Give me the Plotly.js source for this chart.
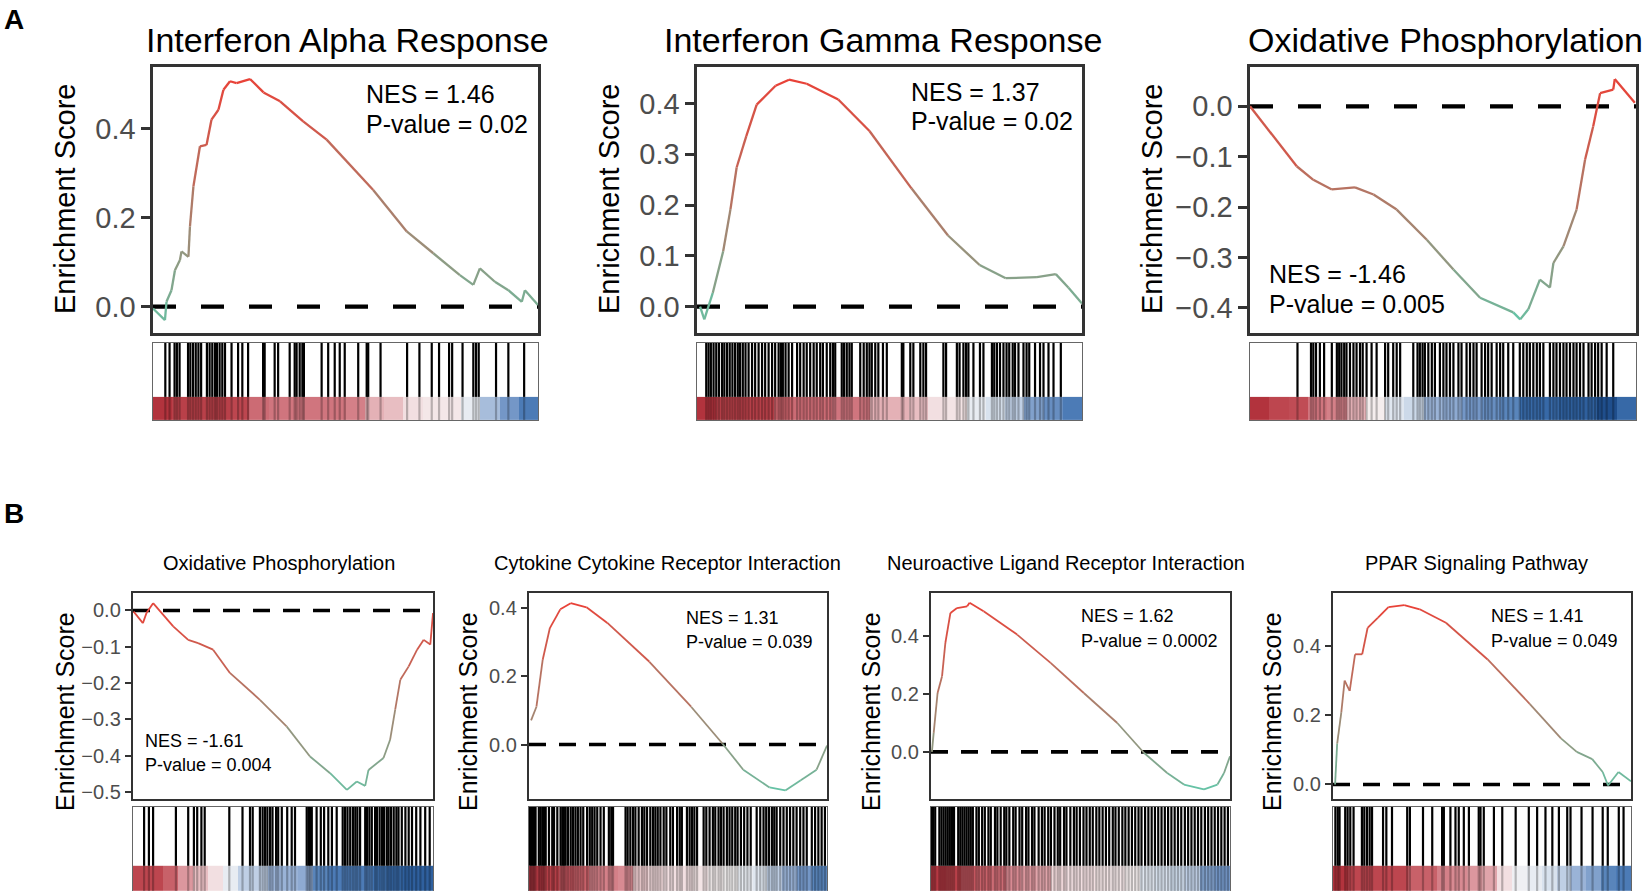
<!DOCTYPE html>
<html><head><meta charset="utf-8">
<script src="https://cdn.plot.ly/plotly-3.0.1.min.js"></script>
<style>html,body{margin:0;padding:0;background:#fff}#g{width:1642px;height:891px}</style>
</head><body><div id="g"></div>
<script>
// ---------- DATA (x = fraction of ranked gene list, es = enrichment score) ----------
const A1_title = 'Interferon Alpha Response', A1_nes = 'NES = 1.46', A1_p = 'P-value = 0.02';
const A1_x  = [0,0.031,0.035,0.048,0.057,0.070,0.074,0.092,0.096,0.105,0.122,0.139,0.152,0.170,0.183,0.200,0.217,0.252,0.287,0.330,0.390,0.451,0.572,0.659,0.728,0.797,0.832,0.849,0.888,0.923,0.958,0.966,1.0];
const A1_es = [-0.004,-0.030,0.011,0.037,0.082,0.105,0.124,0.112,0.180,0.270,0.360,0.363,0.420,0.442,0.487,0.506,0.502,0.511,0.481,0.461,0.416,0.375,0.262,0.169,0.120,0.071,0.049,0.086,0.056,0.037,0.011,0.037,0.004];
const A1_hits = [32,43,56,62,69,91,97,104,111,118,125,140,147,154,161,166,173,180,187,204,221,232,247,286,290,316,325,355,368,373,381,388,392,438,455,472,485,498,533,555,559,591,660,692,724,743,769,777,804,832,839,846,891,923,964];
const A1_band = [1.0,0.9,0.9,0.9,0.85,0.65,0.6,0.6,0.6,0.6,0.55,0.35,0.3,0.15,0.1,0.1,-0.1,-0.4,-0.6,-0.75];

const A2_title = 'Interferon Gamma Response', A2_nes = 'NES = 1.37', A2_p = 'P-value = 0.02';
const A2_x  = [0.008,0.019,0.041,0.068,0.087,0.103,0.128,0.155,0.204,0.239,0.285,0.367,0.448,0.557,0.652,0.734,0.802,0.883,0.932,0.965,1.0];
const A2_es = [0,-0.025,0.027,0.109,0.192,0.274,0.336,0.398,0.435,0.447,0.439,0.408,0.346,0.233,0.140,0.082,0.056,0.058,0.064,0.037,0.006];
const A2_hits = [24,30,36,43,50,57,65,71,78,85,92,99,106,112,119,126,134,143,151,160,169,177,186,195,203,212,218,223,230,238,247,260,268,277,285,294,303,311,320,327,337,346,353,359,376,382,389,396,402,424,433,441,448,454,463,471,483,493,532,536,554,562,580,588,595,640,647,675,682,692,699,705,718,735,744,766,772,779,787,796,804,811,820,826,835,848,856,863,878,891,900,913,926,945];
const A2_band = [1.0,0.9,0.9,0.9,0.7,0.65,0.65,0.6,0.6,0.35,0.35,0.3,0.15,0.12,-0.1,-0.2,-0.3,-0.55,-0.65,-0.75];

const A3_title = 'Oxidative Phosphorylation', A3_nes = 'NES = -1.46', A3_p = 'P-value = 0.005';
const A3_x  = [0,0.121,0.164,0.212,0.272,0.320,0.380,0.458,0.527,0.596,0.682,0.700,0.721,0.751,0.777,0.786,0.812,0.846,0.868,0.889,0.907,0.941,0.945,0.997];
const A3_es = [0,-0.119,-0.146,-0.165,-0.161,-0.175,-0.205,-0.265,-0.324,-0.380,-0.409,-0.423,-0.403,-0.344,-0.360,-0.311,-0.278,-0.205,-0.106,-0.040,0.026,0.033,0.054,0.007];
const A3_hits = [123,158,164,171,181,192,212,225,231,237,244,250,259,268,276,285,292,302,315,328,350,358,371,380,389,423,434,440,447,453,462,471,479,492,501,509,518,527,540,548,561,570,579,587,600,609,617,626,639,648,656,669,682,699,708,717,725,734,743,751,760,777,786,794,803,812,820,829,838,846,855,864,877,885,894,902,911,924,941];
const A3_band = [1.0,0.85,0.8,0.6,0.55,0.35,0.05,-0.15,-0.25,-0.45,-0.5,-0.6,-0.65,-0.7,-0.85,-0.85,-0.9,-0.9,-1.0,-0.85];

const B1_title = 'Oxidative Phosphorylation', B1_nes = 'NES = -1.61', B1_p = 'P-value = 0.004';
const B1_x  = [0.002,0.033,0.045,0.067,0.134,0.184,0.217,0.267,0.323,0.423,0.512,0.590,0.657,0.713,0.746,0.774,0.785,0.835,0.857,0.874,0.891,0.919,0.947,0.969,0.991,1.0];
const B1_es = [-0.003,-0.035,-0.007,0.020,-0.044,-0.081,-0.090,-0.108,-0.172,-0.246,-0.319,-0.402,-0.448,-0.494,-0.471,-0.483,-0.439,-0.406,-0.356,-0.273,-0.191,-0.154,-0.108,-0.081,-0.094,-0.007];
const B1_hits = [37,53,67,143,184,203,214,228,239,321,365,390,399,423,432,440,448,457,465,477,484,496,514,529,540,579,585,590,596,612,626,637,651,663,679,699,707,715,724,733,741,748,757,774,780,788,796,807,813,822,830,837,846,852,860,869,878,885,896,908,919,930,944,958,974,989];
const B1_band = [0.85,0.85,0.7,0.45,0.3,0.15,-0.1,-0.3,-0.3,-0.45,-0.45,-0.5,-0.7,-0.75,-0.75,-0.75,-0.8,-0.85,-0.9,-0.9];

const B2_title = 'Cytokine Cytokine Receptor Interaction', B2_nes = 'NES = 1.31', B2_p = 'P-value = 0.039';
const B2_x  = [0.007,0.025,0.046,0.070,0.105,0.140,0.193,0.263,0.404,0.544,0.649,0.719,0.807,0.860,0.912,0.965,1.0];
const B2_es = [0.071,0.111,0.249,0.342,0.397,0.415,0.403,0.357,0.243,0.111,0.003,-0.074,-0.126,-0.135,-0.105,-0.074,-0.003];
const B2_hits = [3,8,12,17,22,33,39,45,50,56,67,78,84,95,106,112,117,123,131,140,148,156,164,173,182,195,204,212,220,229,240,251,268,276,282,324,331,340,349,357,368,379,387,396,407,416,424,432,441,452,461,474,483,497,506,513,530,539,547,555,564,586,595,606,617,625,636,644,653,664,673,682,692,700,711,722,733,744,764,776,787,796,805,815,823,831,843,854,865,876,887,898,910,921,932,949,960,971,982,993];
const B2_band = [0.95,0.9,0.75,0.7,0.55,0.55,0.5,0.25,0.2,0.15,0.15,0.12,0.05,0.0,-0.1,-0.15,-0.3,-0.45,-0.6,-0.7];

const B3_title = 'Neuroactive Ligand Receptor Interaction', B3_nes = 'NES = 1.62', B3_p = 'P-value = 0.0002';
const B3_x  = [0.003,0.009,0.022,0.037,0.048,0.065,0.087,0.121,0.129,0.176,0.288,0.400,0.511,0.623,0.712,0.790,0.846,0.913,0.958,0.980,1.0];
const B3_es = [0,0.066,0.204,0.262,0.377,0.481,0.498,0.504,0.516,0.487,0.406,0.308,0.204,0.100,-0.003,-0.073,-0.113,-0.130,-0.113,-0.073,-0.015];
const B3_hits = [0,7,14,28,35,42,49,56,63,70,77,91,98,105,112,119,126,133,140,152,160,171,180,192,200,214,222,233,245,252,262,275,283,296,305,318,326,338,346,360,371,380,392,401,413,424,432,445,453,466,478,487,498,510,520,531,541,553,563,574,585,596,608,617,628,640,650,661,672,683,694,704,716,727,738,749,760,771,782,793,804,815,826,837,849,860,871,882,893,904,916,927,938,949,960,971,982,993];
const B3_band = [0.95,0.9,0.75,0.7,0.65,0.5,0.45,0.4,0.2,0.15,0.15,0.12,0.1,0.05,-0.15,-0.2,-0.25,-0.3,-0.55,-0.6];

const B4_title = 'PPAR Signaling Pathway', B4_nes = 'NES = 1.41', B4_p = 'P-value = 0.049';
const B4_x  = [0.007,0.014,0.028,0.039,0.056,0.074,0.098,0.116,0.151,0.186,0.239,0.291,0.379,0.519,0.660,0.765,0.818,0.870,0.905,0.923,0.958,1.0];
const B4_es = [0,0.118,0.209,0.300,0.270,0.376,0.376,0.452,0.482,0.512,0.518,0.506,0.467,0.361,0.233,0.133,0.094,0.073,0.036,-0.003,0.036,0.009];
const B4_hits = [8,16,22,41,49,58,69,97,105,114,123,131,168,179,198,249,258,302,333,366,372,394,411,422,439,456,489,495,506,540,568,613,657,685,713,736,758,786,797,834,871,905,922,959,975];
const B4_band = [1.0,0.85,0.85,0.85,0.85,0.7,0.7,0.55,0.5,0.45,0.4,0.15,-0.05,-0.1,-0.2,-0.3,-0.45,-0.55,-0.7,-0.75];

const A_ticks = [[0,0.2,0.4],[0,0.1,0.2,0.3,0.4],[-0.4,-0.3,-0.2,-0.1,0]];
const B_ticks = [[-0.5,-0.4,-0.3,-0.2,-0.1,0],[0,0.2,0.4],[0,0.2,0.4],[0,0.2,0.4]];

// ---------- LAYOUT GEOMETRY (pixels) ----------
const W = 1642, H = 891;
const panels = [
  {t:A1_title,n:A1_nes,p:A1_p,x:A1_x,es:A1_es,hits:A1_hits,band:A1_band,ticks:A_ticks[0],big:true,
   box:[153,538,67,333],strip:[343,420],yr:[-0.059,0.538],title:[347,40],yt:[65,199],ann:[364,94,124]},
  {t:A2_title,n:A2_nes,p:A2_p,x:A2_x,es:A2_es,hits:A2_hits,band:A2_band,ticks:A_ticks[1],big:true,
   box:[697,1082,67,333],strip:[343,420],yr:[-0.052,0.472],title:[883,40],yt:[609,199],ann:[909,92,121]},
  {t:A3_title,n:A3_nes,p:A3_p,x:A3_x,es:A3_es,hits:A3_hits,band:A3_band,ticks:A_ticks[2],big:true,
   box:[1250,1636,67,333],strip:[343,420],yr:[-0.45,0.078],title:[1445,40],yt:[1152,199],ann:[1267,274,304]},
  {t:B1_title,n:B1_nes,p:B1_p,x:B1_x,es:B1_es,hits:B1_hits,band:B1_band,ticks:B_ticks[0],big:false,
   box:[133,433,593,799],strip:[807,891],yr:[-0.519,0.048],title:[279,563],yt:[65,712],ann:[143,741,765]},
  {t:B2_title,n:B2_nes,p:B2_p,x:B2_x,es:B2_es,hits:B2_hits,band:B2_band,ticks:B_ticks[1],big:false,
   box:[529,827,593,799],strip:[807,891],yr:[-0.16,0.445],title:[667,563],yt:[468,712],ann:[684,618,642]},
  {t:B3_title,n:B3_nes,p:B3_p,x:B3_x,es:B3_es,hits:B3_hits,band:B3_band,ticks:B_ticks[2],big:false,
   box:[931,1230,593,799],strip:[807,891],yr:[-0.163,0.55],title:[1066,563],yt:[871,712],ann:[1079,616,641]},
  {t:B4_title,n:B4_nes,p:B4_p,x:B4_x,es:B4_es,hits:B4_hits,band:B4_band,ticks:B_ticks[3],big:false,
   box:[1333,1631,593,799],strip:[807,891],yr:[-0.042,0.553],title:[1476,563],yt:[1272,712],ann:[1489,616,641]}
];

const FONT = 'Liberation Sans, Arial, sans-serif';
const fx = v => v / W, fy = v => 1 - v / H;
const GREEN = [102,194,165], RED = [232,66,56];
const NB = 28;
function mix(t){ t = Math.pow(t, 0.8); return 'rgb(' + GREEN.map((g,i)=>Math.round(g + (RED[i]-g)*t)).join(',') + ')'; }
const bandScale = [[0,'#1f4e8c'],[0.1,'#3f72b0'],[0.25,'#8eaad2'],[0.4,'#d8e2ee'],[0.5,'#f7f5f5'],
                   [0.6,'#f0d8da'],[0.75,'#d88a92'],[0.9,'#c04c55'],[1,'#b2333d']];

const data = [], layout = {
  width: W, height: H, margin:{l:0,r:0,t:0,b:0}, showlegend:false,
  paper_bgcolor:'#fff', plot_bgcolor:'#fff', annotations:[]
};

panels.forEach((P, k) => {
  const ia = 2*k + 1, ib = 2*k + 2;
  const xa = 'x' + (ia===1?'':ia), ya = 'y' + (ia===1?'':ia);
  const xb = 'x' + ib, yb = 'y' + ib;
  const big = P.big;
  layout['xaxis' + (ia===1?'':ia)] = {domain:[fx(P.box[0]), fx(P.box[1])], range:[0,1], anchor:ya,
    showline:true, mirror:true, linecolor:'#333', linewidth: big?2.6:2.2, showticklabels:false, ticks:'',
    showgrid:false, zeroline:false, fixedrange:true};
  layout['yaxis' + (ia===1?'':ia)] = {domain:[fy(P.box[3]), fy(P.box[2])], range:P.yr, anchor:xa,
    showline:true, mirror:true, linecolor:'#333', linewidth: big?2.6:2.2, ticks:'outside',
    ticklen: big?9:6, tickwidth: big?3:2, tickcolor:'#333', tickvals:P.ticks, tickformat:'.1f',
    tickfont:{family:FONT, size: big?29:20, color:'#4d4d4d'}, showgrid:false, zeroline:false, fixedrange:true};
  layout['xaxis' + ib] = {domain:[fx(P.box[0]), fx(P.box[1])], range:[0,1000], anchor:yb,
    showline:true, mirror:true, linecolor:'#666', linewidth:1.2, showticklabels:false, ticks:'',
    showgrid:false, zeroline:false, fixedrange:true};
  layout['yaxis' + ib] = {domain:[fy(P.strip[1]), fy(P.strip[0])], range:[0,1], anchor:xb,
    showline:true, mirror:true, linecolor:'#666', linewidth:1.2, showticklabels:false, ticks:'',
    showgrid:false, zeroline:false, fixedrange:true};

  const edges = P.band.map((_,i)=> i*1000/P.band.length).concat([1000]);
  data.push({type:'heatmap', xaxis:xb, yaxis:yb, x:edges, y:[0,0.3], z:[P.band],
    zmin:-1, zmax:1, colorscale:bandScale, showscale:false, hoverinfo:'skip'});
  const hx = [], hy = [], lx = [], ly = [];
  P.hits.forEach(h => { hx.push(h,h,null); hy.push(0.3,1,null); lx.push(h,h,null); ly.push(0,0.3,null); });
  data.push({type:'scatter', mode:'lines', xaxis:xb, yaxis:yb, x:hx, y:hy,
    line:{color:'#000', width: 2.2}, hoverinfo:'skip'});
  data.push({type:'scatter', mode:'lines', xaxis:xb, yaxis:yb, x:lx, y:ly,
    line:{color:'rgba(0,0,0,0.25)', width: 2.2}, hoverinfo:'skip'});

  data.push({type:'scatter', mode:'lines', xaxis:xa, yaxis:ya, x:[0,1], y:[0,0],
    line:{color:'#000', width: big?4.2:3.6, dash: big?'23px,25px':'17px,13px'}, hoverinfo:'skip'});

  const mn = Math.min(...P.es), mx = Math.max(...P.es);
  const bx = Array.from({length:NB},()=>[]), by = Array.from({length:NB},()=>[]);
  for (let i=0;i<P.x.length-1;i++){
    const t = ((P.es[i]+P.es[i+1])/2 - mn)/(mx-mn);
    const b = Math.min(NB-1, Math.max(0, Math.round(t*(NB-1))));
    bx[b].push(P.x[i], P.x[i+1], null); by[b].push(P.es[i], P.es[i+1], null);
  }
  for (let b=0;b<NB;b++){
    if (!bx[b].length) continue;
    data.push({type:'scatter', mode:'lines', xaxis:xa, yaxis:ya, x:bx[b], y:by[b],
      line:{color:mix(b/(NB-1)), width: big?2.3:1.8}, hoverinfo:'skip', connectgaps:false});
  }

  const A = layout.annotations;
  A.push({xref:'paper',yref:'paper',x:fx(P.title[0]),y:fy(P.title[1]),xanchor:'center',yanchor:'middle',
    showarrow:false,text:P.t,font:{family:FONT,size:big?34:20,color:'#000'}});
  A.push({xref:'paper',yref:'paper',x:fx(P.yt[0]),y:fy(P.yt[1]),xanchor:'center',yanchor:'middle',
    showarrow:false,text:'Enrichment Score',textangle:-90,font:{family:FONT,size:big?29:25,color:'#000'}});
  A.push({xref:'paper',yref:'paper',x:fx(P.ann[0]),y:fy(P.ann[1]),xanchor:'left',yanchor:'middle',
    showarrow:false,text:P.n,font:{family:FONT,size:big?25:18,color:'#000'}});
  A.push({xref:'paper',yref:'paper',x:fx(P.ann[0]),y:fy(P.ann[2]),xanchor:'left',yanchor:'middle',
    showarrow:false,text:P.p,font:{family:FONT,size:big?25:18,color:'#000'}});
});

layout.annotations.push({xref:'paper',yref:'paper',x:fx(2),y:fy(19),xanchor:'left',yanchor:'middle',
  showarrow:false,text:'<b>A</b>',font:{family:FONT,size:28,color:'#000'}});
layout.annotations.push({xref:'paper',yref:'paper',x:fx(2),y:fy(513),xanchor:'left',yanchor:'middle',
  showarrow:false,text:'<b>B</b>',font:{family:FONT,size:28,color:'#000'}});

Plotly.newPlot('g', data, layout, {staticPlot:true, displayModeBar:false});
</script></body></html>
